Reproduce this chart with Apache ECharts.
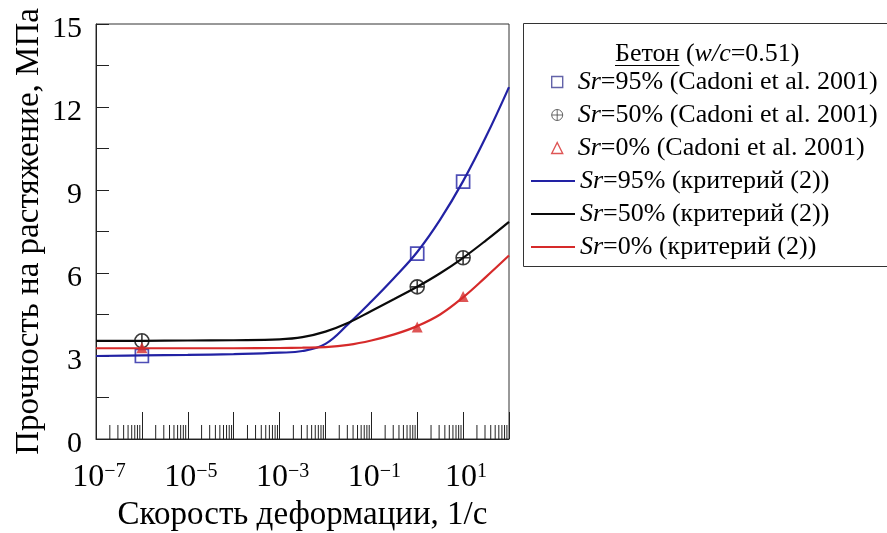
<!DOCTYPE html>
<html>
<head>
<meta charset="utf-8">
<script src="https://cdn.jsdelivr.net/npm/echarts@6/dist/echarts.min.js"></script>
<style>
  html, body { margin: 0; padding: 0; background: #fff; }
  #chart { width: 887px; height: 533px; }
</style>
</head>
<body>
<div id="chart"></div>
<script>
// Strain rates (1/s) at which the fitted curves are sampled
const curveRates = [1e-7, 1e-6, 1e-5, 1e-4, 1e-3, 0.00316, 0.01, 0.0316, 0.1, 0.316, 1, 3.16, 10, 31.6, 100];
// Tensile strength (MPa) along each fitted curve, criterion (2)
const curveSr95 = [3.0, 3.02, 3.04, 3.07, 3.12, 3.18, 3.44, 4.16, 4.97, 5.83, 6.76, 7.93, 9.32, 10.93, 12.72];
const curveSr50 = [3.55, 3.55, 3.56, 3.57, 3.6, 3.68, 3.88, 4.2, 4.63, 5.06, 5.5, 5.99, 6.55, 7.18, 7.85];
const curveSr0  = [3.28, 3.28, 3.28, 3.28, 3.29, 3.3, 3.32, 3.4, 3.56, 3.78, 4.08, 4.5, 5.12, 5.86, 6.63];

// Test results (Cadoni et al. 2001)
const testRates = [1e-6, 1, 10];
const testSr95 = [3.0, 6.7, 9.3];
const testSr50 = [3.55, 5.5, 6.55];
const testSr0  = [3.3, 4.05, 5.15];

// Axis settings
const yTicks = [0, 3, 6, 9, 12, 15];
const xMin = 1e-7, xMax = 100;
const minorMultipliers = [2, 3, 4, 5, 6, 7, 8, 9];
const minorTickRates = [];
for (let e = -7; e <= 1; e++) {
  minorMultipliers.forEach(k => minorTickRates.push(k * Math.pow(10, e)));
}

const names = {
  p95: 'Sr=95% (Cadoni et al. 2001)',
  p50: 'Sr=50% (Cadoni et al. 2001)',
  p0:  'Sr=0% (Cadoni et al. 2001)',
  c95: 'Sr=95% (критерий (2))',
  c50: 'Sr=50% (критерий (2))',
  c0:  'Sr=0% (критерий (2))'
};

const BLUE = '#2222a4', BLACK = '#0a0a0a', RED = '#d62a2a';
const SERIF = '"Liberation Serif", "DejaVu Serif", serif';
const INK = '#000';
const LEGEND_FS = 26;
const circlePlus = 'path://M10,0 A10,10 0 1,1 -10,0 A10,10 0 1,1 10,0 Z M-10,0 L10,0 M0,-10 L0,10';

const pairs = (xs, ys) => xs.map((x, i) => [x, ys[i]]);

// width of the underlined word in the legend heading
const measureCtx = document.createElement('canvas').getContext('2d');
measureCtx.font = LEGEND_FS + 'px "Liberation Serif"';
const headWord = 'Бетон';
const headWordWidth = measureCtx.measureText(headWord).width;

const legendRich = {
  p: { width: 10 },
  i: { fontFamily: SERIF, fontStyle: 'italic', fontSize: LEGEND_FS, color: INK },
  t: { fontFamily: SERIF, fontSize: LEGEND_FS, color: INK }
};
const legendText = pad => name => (pad ? '{p|}' : '') + '{i|Sr}{t|' + name.slice(2) + '}';

const chart = echarts.init(document.getElementById('chart'), null, { renderer: 'canvas' });

chart.setOption({
  animation: false,
  backgroundColor: '#fff',
  grid: {
    left: 96, top: 24, width: 413, height: 415,
    outerBoundsMode: 'none',
    containLabel: false,
    show: true, borderColor: '#333', borderWidth: 1, backgroundColor: 'transparent'
  },
  xAxis: {
    type: 'log',
    logBase: 10,
    min: xMin,
    max: xMax,
    splitNumber: 9,
    interval: 1,
    name: 'Скорость деформации, 1/с',
    nameLocation: 'middle',
    nameGap: 60,
    nameTextStyle: { fontFamily: SERIF, fontSize: 33, color: INK },
    axisLine: { lineStyle: { color: '#222', width: 1 } },
    axisTick: { inside: true, length: 27, lineStyle: { color: '#222', width: 1 } },
    minorTick: { show: false },
    splitLine: { show: false },
    axisLabel: {
      margin: 23,
      color: INK,
      formatter: v => {
        const e = Math.round(Math.log10(v));
        if (e % 2 === 0) return '';
        return '{b|10}{s|' + (e < 0 ? '−' + (-e) : String(e)) + '}';
      },
      rich: {
        b: { fontFamily: SERIF, fontSize: 32, lineHeight: 32, padding: [5, 0, 0, 6], verticalAlign: 'bottom', color: INK },
        s: { fontFamily: SERIF, fontSize: 20, lineHeight: 20, verticalAlign: 'top', color: INK }
      }
    }
  },
  yAxis: {
    type: 'value',
    min: yTicks[0],
    max: yTicks[yTicks.length - 1],
    interval: 3,
    name: 'Прочность на растяжение, МПа',
    nameLocation: 'middle',
    nameGap: 50,
    nameTextStyle: { fontFamily: SERIF, fontSize: 33, color: INK },
    axisLine: { show: true, lineStyle: { color: '#222', width: 1 } },
    axisTick: { show: true, inside: true, length: 13, lineStyle: { color: '#222', width: 1 } },
    minorTick: { show: true, splitNumber: 2, length: 13, lineStyle: { color: '#222', width: 1 } },
    splitLine: { show: false },
    axisLabel: {
      margin: 14,
      formatter: v => '{v|' + v + '}',
      rich: { v: { fontFamily: SERIF, fontSize: 30, lineHeight: 30, padding: [11, 0, 0, 0], color: INK } }
    }
  },
  legend: [
    {
      orient: 'vertical',
      left: 546, top: 64,
      itemWidth: 11, itemHeight: 11, itemGap: 7,
      selectedMode: false,
      textStyle: { fontFamily: SERIF, fontSize: LEGEND_FS, lineHeight: 26, color: INK, rich: legendRich },
      formatter: legendText(true),
      data: [
        { name: names.p95, icon: 'rect', itemStyle: { color: 'transparent', borderColor: '#3c3c94', borderWidth: 1.4 } },
        { name: names.p50, icon: circlePlus, itemStyle: { color: 'transparent', borderColor: '#444', borderWidth: 1 } },
        { name: names.p0, icon: 'triangle', itemStyle: { color: 'transparent', borderColor: RED, borderWidth: 1.4 } }
      ]
    },
    {
      orient: 'vertical',
      left: 526, top: 163,
      itemWidth: 44, itemHeight: 2, itemGap: 7,
      selectedMode: false,
      textStyle: { fontFamily: SERIF, fontSize: LEGEND_FS, lineHeight: 26, color: INK, rich: legendRich },
      formatter: legendText(false),
      data: [
        { name: names.c95, icon: 'rect', itemStyle: { color: BLUE, borderWidth: 0 } },
        { name: names.c50, icon: 'rect', itemStyle: { color: BLACK, borderWidth: 0 } },
        { name: names.c0, icon: 'rect', itemStyle: { color: RED, borderWidth: 0 } }
      ]
    }
  ],
  graphic: [
    {
      type: 'rect',
      shape: { x: 523.5, y: 23.5, width: 400, height: 243 },
      style: { fill: 'none', stroke: '#333', lineWidth: 1 },
      silent: true
    },
    {
      type: 'text',
      x: 615, y: 54,
      style: {
        text: headWord + ' ({i|w/c}=0.51)',
        fontFamily: SERIF, fontSize: LEGEND_FS, fill: INK,
        verticalAlign: 'middle', align: 'left',
        rich: { i: { fontFamily: SERIF, fontStyle: 'italic', fontSize: LEGEND_FS, fill: INK } }
      },
      silent: true
    },
    {
      type: 'line',
      shape: { x1: 615, y1: 65.5, x2: 615 + headWordWidth, y2: 65.5 },
      style: { stroke: INK, lineWidth: 1 },
      silent: true
    }
  ],
  series: [
    {
      name: 'minorTicks',
      type: 'custom',
      silent: true,
      clip: true,
      data: minorTickRates.map(r => [r, 0]),
      encode: { x: 0, y: 1 },
      renderItem: (params, api) => {
        const p = api.coord([api.value(0), 0]);
        return {
          type: 'line',
          shape: { x1: p[0], y1: p[1], x2: p[0], y2: p[1] - 14 },
          style: { stroke: '#222', lineWidth: 1 }
        };
      },
      z: 1
    },
    {
      name: names.p95, type: 'scatter',
      data: pairs(testRates, testSr95),
      symbol: 'rect', symbolSize: 13,
      itemStyle: { color: 'transparent', borderColor: BLUE, borderWidth: 1.7 },
      z: 3
    },
    {
      name: names.p50, type: 'scatter',
      data: pairs(testRates, testSr50),
      symbol: circlePlus, symbolSize: 14,
      itemStyle: { color: 'transparent', borderColor: BLACK, borderWidth: 1.6 },
      z: 3
    },
    {
      name: names.p0, type: 'scatter',
      data: pairs(testRates, testSr0),
      symbol: 'triangle', symbolSize: 11,
      itemStyle: { color: RED },
      z: 3
    },
    {
      name: names.c95, type: 'line',
      data: pairs(curveRates, curveSr95),
      symbol: 'none', smooth: 0.4,
      lineStyle: { color: BLUE, width: 2.2 }, itemStyle: { color: BLUE },
      z: 4
    },
    {
      name: names.c50, type: 'line',
      data: pairs(curveRates, curveSr50),
      symbol: 'none', smooth: 0.4,
      lineStyle: { color: BLACK, width: 2.2 }, itemStyle: { color: BLACK },
      z: 4
    },
    {
      name: names.c0, type: 'line',
      data: pairs(curveRates, curveSr0),
      symbol: 'none', smooth: 0.4,
      lineStyle: { color: RED, width: 2.2 }, itemStyle: { color: RED },
      z: 4
    }
  ]
});
</script>
</body>
</html>
